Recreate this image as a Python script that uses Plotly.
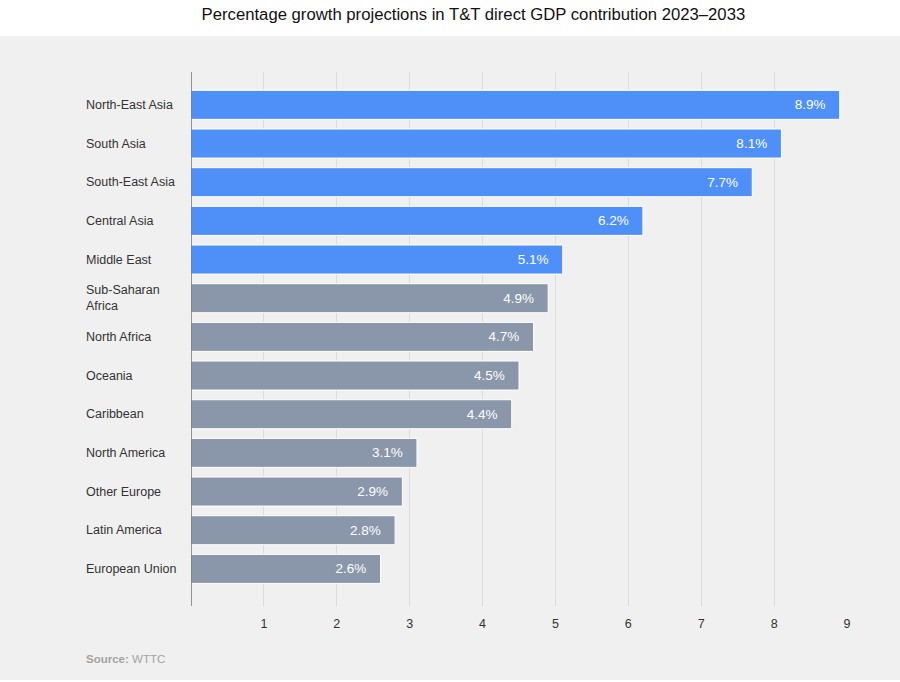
import plotly.graph_objects as go

TITLE = "Percentage growth projections in T&T direct GDP contribution 2023–2033"

regions = ["North-East Asia", "South Asia", "South-East Asia", "Central Asia",
           "Middle East", "Sub-Saharan<br>Africa", "North Africa", "Oceania",
           "Caribbean", "North America", "Other Europe", "Latin America",
           "European Union"]
growth = [8.9, 8.1, 7.7, 6.2, 5.1, 4.9, 4.7, 4.5, 4.4, 3.1, 2.9, 2.8, 2.6]
asia_regions = ["North-East Asia", "South Asia", "South-East Asia",
                "Central Asia", "Middle East"]
x_ticks = [1, 2, 3, 4, 5, 6, 7, 8, 9]

BLUE = "#4f8ff8"
GREY = "#8a97ab"
BG = "#f0f0f0"
FONT = "Liberation Sans, Arial, sans-serif"

colors = [BLUE if r in asia_regions else GREY for r in regions]

fig = go.Figure(go.Bar(
    x=growth,
    y=regions,
    orientation="h",
    marker=dict(color=colors, line=dict(color="white", width=1)),
    text=[f"{v}%" for v in growth],
    texttemplate="%{text}   ",
    textposition="inside",
    insidetextanchor="end",
    textfont=dict(color="white", size=13.5, family=FONT),
    hoverinfo="skip",
))

# left-aligned category labels
for r in regions:
    fig.add_annotation(x=-0.163, xref="paper", y=r, yref="y", text=r,
                       showarrow=False, xanchor="left", align="left",
                       font=dict(size=12.5, color="#333333", family=FONT))

fig.add_annotation(x=-0.163, xref="paper", y=-0.0995, yref="paper",
                   text="<b>Source:</b> WTTC", showarrow=False,
                   xanchor="left", yanchor="middle",
                   font=dict(size=11.5, color="#a3a3a3", family=FONT))

# grey panel behind the chart
fig.add_shape(type="rect", xref="paper", yref="paper",
              x0=-0.3, x1=1.1, y0=-0.1386, y1=1.0674,
              fillcolor=BG, line_width=0, layer="below")

fig.update_layout(
    width=900, height=682,
    margin=dict(l=191, r=53, t=72, b=76),
    paper_bgcolor="white",
    plot_bgcolor="rgba(0,0,0,0)",
    title=dict(text=TITLE, x=0.526, xref="container", xanchor="center",
               y=0.979, yanchor="middle",
               font=dict(size=16.7, color="#111111", family=FONT)),
    font=dict(family=FONT),
    bargap=0.25,
    showlegend=False,
    xaxis=dict(range=[0, 9], tickvals=x_ticks, showgrid=True,
               gridcolor="#dcdcdc", gridwidth=1, zeroline=False,
               showline=False, ticks="", ticklabelstandoff=8,
               tickfont=dict(size=12.5, color="#333333", family=FONT)),
    yaxis=dict(categoryorder="array", categoryarray=regions,
               range=[12.96, -0.85], showticklabels=False, showgrid=False,
               zeroline=False, showline=False, ticks=""),
)

# dark axis line at x=0
fig.add_shape(type="line", xref="x", yref="paper", x0=0, x1=0, y0=0, y1=1,
              line=dict(color="#555555", width=1.2))

# drop the browser's default page margin so the figure sits at 0,0
fig.write_html("out.html",
               config={"displayModeBar": False},
               post_script="document.body.style.margin='0';"
                           "document.body.style.overflow='hidden';")
